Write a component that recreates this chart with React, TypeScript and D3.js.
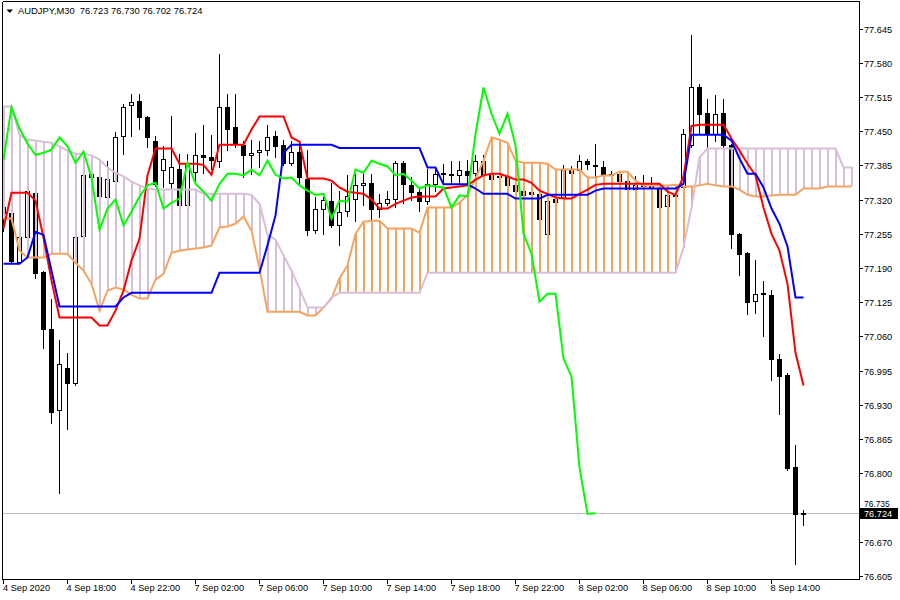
import React from 'react';
import * as d3 from 'd3';

const titleText = 'AUDJPY,M30  76.723 76.730 76.702 76.724';

const openPrices = [
  77.305, 77.295, 77.202, 77.248, 77.333, 77.183, 77.075, 76.921, 77.001, 76.972,
  77.250, 77.369, 77.362, 77.324, 77.356, 77.440, 77.499, 77.508, 77.476, 77.432,
  77.377, 77.352, 77.379, 77.309, 77.373, 77.405, 77.400, 77.394, 77.495, 77.457,
  77.424, 77.405, 77.411, 77.415, 77.440, 77.424, 77.390, 77.411, 77.360, 77.263,
  77.303, 77.318, 77.271, 77.299, 77.322, 77.348, 77.352, 77.303, 77.314, 77.322,
  77.390, 77.348, 77.335, 77.318, 77.350, 77.371, 77.369, 77.366, 77.375, 77.371,
  77.394, 77.366, 77.364, 77.362, 77.347, 77.337, 77.335, 77.331, 77.255, 77.322,
  77.324, 77.377, 77.377, 77.394, 77.386, 77.381, 77.366, 77.369, 77.356, 77.341,
  77.347, 77.345, 77.341, 77.307, 77.328, 77.343, 77.423, 77.533, 77.485, 77.445,
  77.485, 77.424, 77.255, 77.219, 77.128, 77.143, 77.139, 77.018, 76.986, 76.813,
  76.723,
];
const highPrices = [
  77.309, 77.299, 77.250, 77.341, 77.337, 77.185, 77.132, 77.054, 77.029, 77.250,
  77.371, 77.375, 77.366, 77.394, 77.449, 77.502, 77.521, 77.521, 77.478, 77.440,
  77.421, 77.478, 77.407, 77.407, 77.447, 77.461, 77.443, 77.597, 77.521, 77.521,
  77.432, 77.434, 77.432, 77.461, 77.451, 77.434, 77.432, 77.432, 77.415, 77.324,
  77.324, 77.352, 77.337, 77.366, 77.369, 77.371, 77.369, 77.331, 77.337, 77.394,
  77.394, 77.362, 77.343, 77.379, 77.381, 77.388, 77.394, 77.394, 77.396, 77.405,
  77.404, 77.371, 77.375, 77.371, 77.354, 77.341, 77.339, 77.337, 77.326, 77.326,
  77.385, 77.383, 77.405, 77.398, 77.426, 77.394, 77.375, 77.375, 77.371, 77.364,
  77.366, 77.362, 77.348, 77.337, 77.345, 77.455, 77.633, 77.540, 77.512, 77.519,
  77.512, 77.426, 77.257, 77.221, 77.206, 77.166, 77.149, 77.027, 76.991, 76.854,
  76.730,
];
const lowPrices = [
  77.261, 77.200, 77.200, 77.242, 77.172, 77.039, 76.896, 76.763, 76.885, 76.968,
  77.248, 77.337, 77.320, 77.320, 77.352, 77.407, 77.440, 77.455, 77.419, 77.345,
  77.343, 77.341, 77.307, 77.307, 77.356, 77.371, 77.379, 77.381, 77.415, 77.419,
  77.362, 77.369, 77.381, 77.404, 77.400, 77.385, 77.386, 77.347, 77.252, 77.257,
  77.255, 77.267, 77.233, 77.288, 77.280, 77.309, 77.280, 77.286, 77.309, 77.305,
  77.314, 77.320, 77.299, 77.312, 77.337, 77.352, 77.352, 77.350, 77.350, 77.356,
  77.354, 77.348, 77.356, 77.341, 77.333, 77.326, 77.328, 77.282, 77.252, 77.312,
  77.320, 77.364, 77.373, 77.379, 77.356, 77.360, 77.350, 77.350, 77.337, 77.341,
  77.341, 77.341, 77.303, 77.305, 77.322, 77.341, 77.419, 77.447, 77.419, 77.432,
  77.419, 77.229, 77.176, 77.103, 77.105, 77.060, 76.978, 76.913, 76.807, 76.628,
  76.702,
];
const closePrices = [
  77.295, 77.204, 77.248, 77.337, 77.181, 77.075, 76.917, 77.008, 76.972, 77.248,
  77.367, 77.362, 77.326, 77.360, 77.438, 77.495, 77.506, 77.476, 77.438, 77.350,
  77.398, 77.381, 77.309, 77.385, 77.405, 77.400, 77.396, 77.495, 77.455, 77.426,
  77.405, 77.409, 77.415, 77.438, 77.421, 77.390, 77.411, 77.362, 77.263, 77.303,
  77.320, 77.271, 77.297, 77.326, 77.347, 77.352, 77.303, 77.314, 77.322, 77.390,
  77.350, 77.335, 77.318, 77.350, 77.369, 77.369, 77.366, 77.377, 77.366, 77.394,
  77.367, 77.360, 77.362, 77.347, 77.337, 77.329, 77.331, 77.284, 77.318, 77.316,
  77.377, 77.371, 77.394, 77.388, 77.383, 77.366, 77.369, 77.356, 77.341, 77.347,
  77.345, 77.343, 77.305, 77.328, 77.326, 77.445, 77.533, 77.483, 77.445, 77.483,
  77.423, 77.255, 77.217, 77.126, 77.141, 77.141, 77.018, 76.984, 76.811, 76.723,
  76.724,
];

const tenkanSen = [
  77.265, 77.333, 77.333, 77.333, 77.318, 77.248, 77.166, 77.096, 77.096, 77.096,
  77.096, 77.096, 77.081, 77.081, 77.109, 77.147, 77.204, 77.246, 77.366, 77.417,
  77.417, 77.417, 77.388, 77.388, 77.388, 77.386, 77.367, 77.424, 77.424, 77.424,
  77.424, 77.453, 77.478, 77.478, 77.478, 77.478, 77.438, 77.430, 77.360, 77.360,
  77.360, 77.356, 77.343, 77.335, 77.333, 77.331, 77.320, 77.303, 77.303, 77.312,
  77.318, 77.324, 77.326, 77.326, 77.326, 77.341, 77.343, 77.345, 77.347, 77.358,
  77.366, 77.369, 77.369, 77.364, 77.358, 77.358, 77.352, 77.337, 77.331, 77.324,
  77.322, 77.322, 77.331, 77.339, 77.348, 77.350, 77.350, 77.350, 77.350, 77.350,
  77.350, 77.350, 77.350, 77.335, 77.329, 77.364, 77.460, 77.462, 77.462, 77.462,
  77.462, 77.436, 77.413, 77.388, 77.366, 77.305, 77.255, 77.223, 77.160, 77.029,
  76.967,
];
const kijunSen = [
  77.198, 77.198, 77.198, 77.210, 77.259, 77.253, 77.185, 77.117, 77.117, 77.117,
  77.117, 77.117, 77.117, 77.117, 77.117, 77.134, 77.143, 77.143, 77.143, 77.143,
  77.143, 77.143, 77.143, 77.143, 77.143, 77.143, 77.143, 77.181, 77.181, 77.181,
  77.181, 77.181, 77.181, 77.233, 77.290, 77.409, 77.424, 77.424, 77.424, 77.424,
  77.424, 77.424, 77.418, 77.418, 77.418, 77.418, 77.418, 77.418, 77.418, 77.418,
  77.418, 77.418, 77.418, 77.381, 77.381, 77.349, 77.349, 77.349, 77.349, 77.341,
  77.331, 77.331, 77.331, 77.331, 77.322, 77.322, 77.322, 77.322, 77.329, 77.329,
  77.329, 77.329, 77.329, 77.329, 77.337, 77.341, 77.341, 77.341, 77.341, 77.341,
  77.341, 77.341, 77.341, 77.341, 77.341, 77.350, 77.443, 77.443, 77.443, 77.443,
  77.443, 77.432, 77.398, 77.369, 77.369, 77.343, 77.303, 77.274, 77.231, 77.134,
  77.134,
];
const senkouSpanA = [
  77.284, 77.284, 77.223, 77.210, 77.210, 77.210, 77.217, 77.217, 77.217, 77.200,
  77.185, 77.160, 77.109, 77.147, 77.153, 77.149, 77.139, 77.132, 77.132, 77.168,
  77.179, 77.219, 77.223, 77.225, 77.227, 77.229, 77.233, 77.267, 77.269, 77.274,
  77.288, 77.261, 77.189, 77.107, 77.107, 77.107, 77.107, 77.107, 77.100, 77.100,
  77.115, 77.132, 77.170, 77.195, 77.255, 77.278, 77.280, 77.280, 77.265, 77.265,
  77.265, 77.265, 77.257, 77.305, 77.305, 77.305, 77.305, 77.314, 77.329, 77.360,
  77.394, 77.438, 77.434, 77.428, 77.394, 77.390, 77.390, 77.390, 77.388, 77.377,
  77.377, 77.377, 77.377, 77.362, 77.362, 77.366, 77.366, 77.373, 77.373, 77.356,
  77.347, 77.347, 77.347, 77.347, 77.348, 77.345, 77.345, 77.347, 77.350, 77.347,
  77.345, 77.345, 77.339, 77.329, 77.326, 77.326, 77.328, 77.329, 77.329, 77.329,
  77.341, 77.341, 77.341, 77.345, 77.345, 77.345, 77.345,
];
const senkouSpanB = [
  77.497, 77.497, 77.443, 77.434, 77.432, 77.430, 77.428, 77.421, 77.413, 77.407,
  77.407, 77.404, 77.396, 77.381, 77.371, 77.364, 77.354, 77.347, 77.341, 77.339,
  77.339, 77.339, 77.339, 77.339, 77.339, 77.331, 77.331, 77.331, 77.331, 77.331,
  77.331, 77.329, 77.312, 77.253, 77.244, 77.214, 77.185, 77.151, 77.115, 77.115,
  77.115, 77.134, 77.143, 77.143, 77.143, 77.143, 77.143, 77.143, 77.143, 77.143,
  77.143, 77.143, 77.143, 77.181, 77.181, 77.181, 77.181, 77.181, 77.181, 77.181,
  77.181, 77.181, 77.181, 77.181, 77.181, 77.181, 77.181, 77.181, 77.181, 77.181,
  77.181, 77.181, 77.181, 77.181, 77.181, 77.181, 77.181, 77.181, 77.181, 77.181,
  77.181, 77.181, 77.181, 77.181, 77.181, 77.229, 77.305, 77.400, 77.417, 77.417,
  77.417, 77.417, 77.417, 77.417, 77.417, 77.417, 77.417, 77.417, 77.417, 77.417,
  77.417, 77.417, 77.417, 77.417, 77.417, 77.381, 77.381,
];
const chikouSpan = [
  77.396, 77.495, 77.455, 77.426, 77.405, 77.409, 77.415, 77.438, 77.421, 77.390,
  77.411, 77.362, 77.263, 77.303, 77.320, 77.271, 77.297, 77.326, 77.347, 77.352,
  77.303, 77.314, 77.322, 77.390, 77.350, 77.335, 77.318, 77.350, 77.369, 77.369,
  77.366, 77.377, 77.366, 77.394, 77.367, 77.360, 77.362, 77.347, 77.337, 77.329,
  77.331, 77.284, 77.318, 77.316, 77.377, 77.371, 77.394, 77.388, 77.383, 77.366,
  77.369, 77.356, 77.341, 77.347, 77.345, 77.343, 77.305, 77.328, 77.326, 77.445,
  77.533, 77.483, 77.445, 77.483, 77.423, 77.255, 77.217, 77.126, 77.141, 77.141,
  77.018, 76.984, 76.811, 76.723, 76.724,
];

const priceTicks = [
  77.645, 77.58, 77.515, 77.45, 77.385, 77.32, 77.255, 77.19, 77.125, 77.06,
  76.995, 76.93, 76.865, 76.8, 76.735, 76.67, 76.605,
];
const timeTickBars = [0, 8, 16, 24, 32, 40, 48, 56, 64, 72, 80, 88, 96];
const timeTickLabels = [
  '4 Sep 2020', '4 Sep 18:00', '4 Sep 22:00', '7 Sep 02:00', '7 Sep 06:00',
  '7 Sep 10:00', '7 Sep 14:00', '7 Sep 18:00', '7 Sep 22:00', '8 Sep 02:00',
  '8 Sep 06:00', '8 Sep 10:00', '8 Sep 14:00',
];
const lastPrice = 76.724;

const FONT = '"Liberation Sans", Arial, sans-serif';
const SANDY = '#F4A460';
const THISTLE = '#D8BFD8';

export default function App() {
  const W = 900;
  const H = 600;
  const frameL = 2.5;
  const frameR = 859.5;
  const frameT = 1.5;
  const frameB = 579.5;

  const x = d3.scaleLinear().domain([0, 100]).range([3.5, 803.5]);
  const y = d3.scaleLinear().domain([76.605, 77.645]).range([576, 28.5]);

  const mkLine = (arr: number[]) =>
    d3.line<number>().x((_, i) => x(i)).y((d) => y(d))(arr) || '';

  const lastY = Math.round(y(lastPrice)) + 0.5;

  return (
    <svg
      width={W}
      height={H}
      style={{ position: 'absolute', left: 0, top: 0, background: '#fff' }}
      fontFamily={FONT}
    >
      <defs>
        <clipPath id="plot">
          <rect x={3} y={2} width={856} height={577} />
        </clipPath>
      </defs>
      <rect x={0} y={0} width={W} height={H} fill="#fff" />

      <g clipPath="url(#plot)">
        {/* current price line */}
        <line x1={3} x2={859} y1={lastY} y2={lastY} stroke="#C0C0C0" strokeWidth={1} shapeRendering="crispEdges" />

        {/* candles */}
        <g shapeRendering="crispEdges">
          {openPrices.map((o, i) => {
            const c = closePrices[i];
            const h = highPrices[i];
            const l = lowPrices[i];
            const cx = Math.floor(x(i)) + 0.5;
            const yTop = Math.round(y(Math.max(o, c)));
            const yBot = Math.round(y(Math.min(o, c)));
            const bull = c > o;
            return (
              <g key={i}>
                <line x1={cx} x2={cx} y1={Math.round(y(h))} y2={Math.round(y(l)) + 1} stroke="#000" strokeWidth={1} />
                {bull ? (
                  <rect x={cx - 2} y={yTop + 0.5} width={4} height={Math.max(1, yBot - yTop)} fill="#fff" stroke="#000" strokeWidth={1} />
                ) : yBot - yTop < 1 ? (
                  <line x1={cx - 2.5} x2={cx + 2.5} y1={yTop + 0.5} y2={yTop + 0.5} stroke="#000" strokeWidth={1} />
                ) : (
                  <rect x={cx - 2.5} y={yTop} width={5} height={Math.max(1, yBot - yTop + 1)} fill="#000" />
                )}
              </g>
            );
          })}
        </g>

        {/* kumo hatch */}
        <g shapeRendering="crispEdges">
          {senkouSpanA.map((a, i) => {
            const b = senkouSpanB[i];
            const cx = Math.floor(x(i)) + 1;
            return (
              <line
                key={i}
                x1={cx}
                x2={cx}
                y1={y(a)}
                y2={y(b)}
                stroke={a >= b ? SANDY : THISTLE}
                strokeWidth={2}
              />
            );
          })}
        </g>

        {/* lines */}
        <path d={mkLine(senkouSpanA)} fill="none" stroke={SANDY} strokeWidth={2} />
        <path d={mkLine(senkouSpanB)} fill="none" stroke={THISTLE} strokeWidth={2} />
        <path d={mkLine(tenkanSen)} fill="none" stroke="#FF0000" strokeWidth={2} />
        <path d={mkLine(kijunSen)} fill="none" stroke="#0000FF" strokeWidth={2} />
        <path d={mkLine(chikouSpan)} fill="none" stroke="#00FF00" strokeWidth={2} />
      </g>

      {/* frame */}
      <g stroke="#000" strokeWidth={1} shapeRendering="crispEdges" fill="none">
        <line x1={frameL} x2={frameL} y1={frameT} y2={frameB} />
        <line x1={frameL} x2={frameR} y1={frameT} y2={frameT} />
        <line x1={frameR} x2={frameR} y1={frameT} y2={frameB} />
        <line x1={frameL} x2={frameR} y1={frameB} y2={frameB} />
      </g>

      {/* price axis */}
      <g fill="#000">
        {priceTicks.map((p) => {
          const ty = Math.round(y(p)) + 0.5;
          const crowded = Math.abs(ty - lastY) < 8;
          return (
            <g key={p}>
              <line x1={859} x2={863} y1={ty} y2={ty} stroke="#000" shapeRendering="crispEdges" />
              <text
                x={864}
                y={crowded ? ty - 4.5 : ty}
                dy="0.35em"
                fontSize={crowded ? 8.4 : 9.2}
              >
                {p.toFixed(3)}
              </text>
            </g>
          );
        })}
      </g>
      <rect x={860} y={lastY - 5.5} width={38} height={11} fill="#000" />
      <text x={864} y={lastY} dy="0.35em" fontSize={9.2} fill="#fff">{lastPrice.toFixed(3)}</text>

      {/* time axis */}
      <g fontSize={9.2} fill="#000">
        {timeTickBars.map((b, k) => {
          const tx = Math.floor(x(b)) + 0.5;
          return (
            <g key={b}>
              <line x1={tx} x2={tx} y1={579} y2={584} stroke="#000" shapeRendering="crispEdges" />
              <text x={b === 0 ? 3 : tx - 1} y={591}>{timeTickLabels[k]}</text>
            </g>
          );
        })}
      </g>

      {/* title */}
      <path d="M6.5,9.5 L13,9.5 L9.75,13 Z" fill="#000" />
      <text x={18} y={14} fontSize={9.4} fill="#000" style={{ whiteSpace: 'pre' }}>{titleText}</text>
    </svg>
  );
}
